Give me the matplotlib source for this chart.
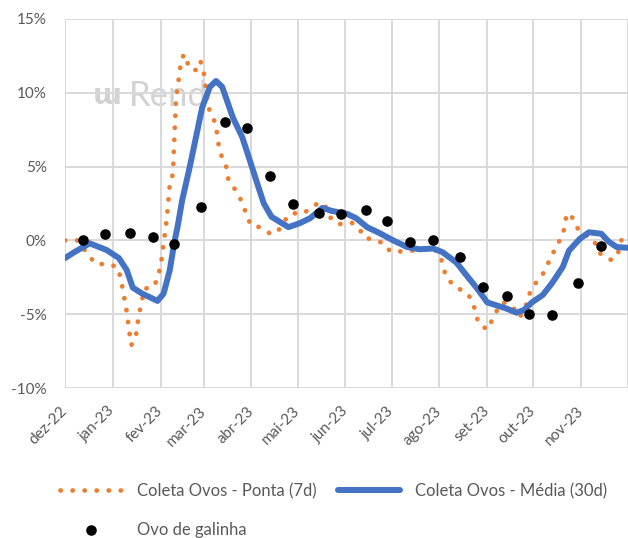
import matplotlib
matplotlib.use("Agg")
import matplotlib.pyplot as plt
import matplotlib.dates as mdates
import pandas as pd
from matplotlib.lines import Line2D

# ---------------- data ----------------
ponta_dates = ["2022-12-01", "2022-12-09", "2022-12-17", "2022-12-21", "2022-12-29",
               "2023-01-04", "2023-01-06", "2023-01-08", "2023-01-10", "2023-01-12", "2023-01-13",
               "2023-01-16", "2023-01-17", "2023-01-18", "2023-01-20", "2023-01-21", "2023-01-28",
               "2023-01-30", "2023-02-01", "2023-02-03", "2023-02-05", "2023-02-07", "2023-02-09",
               "2023-02-10", "2023-02-11", "2023-02-12", "2023-02-13", "2023-02-14", "2023-02-16",
               "2023-02-18", "2023-02-19", "2023-02-25", "2023-02-27", "2023-03-01", "2023-03-02",
               "2023-03-04", "2023-03-07", "2023-03-09", "2023-03-10", "2023-03-11", "2023-03-13",
               "2023-03-16", "2023-03-17", "2023-03-21", "2023-03-24", "2023-03-27", "2023-03-29",
               "2023-04-01", "2023-04-05", "2023-04-11", "2023-04-14", "2023-04-19", "2023-04-23",
               "2023-04-27", "2023-05-04", "2023-05-10", "2023-05-15", "2023-05-19", "2023-05-23",
               "2023-05-28", "2023-06-05", "2023-06-10", "2023-06-13", "2023-06-19", "2023-06-26",
               "2023-06-30", "2023-07-06", "2023-07-14", "2023-07-21", "2023-07-28", "2023-08-01",
               "2023-08-03", "2023-08-05", "2023-08-08", "2023-08-12", "2023-08-18", "2023-08-22",
               "2023-08-24", "2023-08-26", "2023-08-28", "2023-09-01", "2023-09-02", "2023-09-04",
               "2023-09-07", "2023-09-11", "2023-09-15", "2023-09-19", "2023-09-22", "2023-09-26",
               "2023-09-27", "2023-09-29", "2023-10-03", "2023-10-07", "2023-10-09", "2023-10-13",
               "2023-10-15", "2023-10-19", "2023-10-21", "2023-10-22", "2023-10-24", "2023-10-25",
               "2023-10-28", "2023-10-31", "2023-11-05", "2023-11-09", "2023-11-11", "2023-11-12",
               "2023-11-17", "2023-11-21", "2023-11-25", "2023-11-27", "2023-11-30"]
ponta_vals = [0.0, 0.0, -1.1, -1.6, -1.6,
              -1.8, -2.5, -3.6, -4.8, -6.4, -7.1,
              -6.5, -5.7, -5.0, -4.1, -3.3, -3.1,
              -2.5, -1.8, -0.2, 1.4, 3.8, 4.5,
              7.0, 9.5, 10.3, 11.1, 11.9, 12.6,
              12.4, 11.7, 11.5, 12.1, 11.4, 10.6,
              9.0, 8.4, 7.7, 7.0, 6.2, 5.6,
              4.9, 4.1, 3.5, 3.0, 2.3, 1.6,
              1.0, 0.95, 0.6, 0.4, 0.75, 1.4,
              1.85, 1.8, 2.2, 2.6, 2.3, 1.4,
              1.1, 1.2, 0.8, 0.2, 0.05, -0.2,
              -0.75, -0.75, -0.7, -0.55, -0.55, -0.95,
              -1.55, -2.4, -2.8, -3.2, -3.5, -4.0,
              -4.7, -5.5, -5.8, -6.0, -6.0, -5.4,
              -4.8, -4.2, -4.3, -4.7, -5.2, -4.5,
              -3.9, -3.5, -2.8, -2.3, -1.8, -1.1,
              -0.5, 0.15, 0.8, 1.5, 1.85, 1.8,
              1.15, 0.55, 0.3, 0.05, -0.45, -0.8,
              -1.15, -1.35, -0.8, 0.0, 0.35]

media_dates = ["2022-12-01", "2022-12-07", "2022-12-17", "2022-12-28", "2023-01-05", "2023-01-10",
               "2023-01-14", "2023-01-20", "2023-01-30", "2023-02-03", "2023-02-07", "2023-02-10",
               "2023-02-12", "2023-02-15", "2023-02-20", "2023-02-24", "2023-02-28", "2023-03-05",
               "2023-03-09", "2023-03-13", "2023-03-16", "2023-03-20", "2023-03-26", "2023-03-31",
               "2023-04-04", "2023-04-09", "2023-04-14", "2023-04-21", "2023-04-25", "2023-05-02",
               "2023-05-09", "2023-05-17", "2023-05-23", "2023-06-02", "2023-06-08", "2023-06-15",
               "2023-06-23", "2023-07-02", "2023-07-11", "2023-07-19", "2023-07-28", "2023-08-03",
               "2023-08-12", "2023-08-18", "2023-08-25", "2023-09-01", "2023-09-07", "2023-09-13",
               "2023-09-20", "2023-09-25", "2023-09-30", "2023-10-07", "2023-10-13", "2023-10-20",
               "2023-10-24", "2023-10-31", "2023-11-06", "2023-11-14", "2023-11-19", "2023-11-24",
               "2023-12-01"]
media_vals = [-1.2, -0.8, -0.2, -0.65, -1.2, -2.0,
              -3.2, -3.6, -4.1, -3.6, -2.0, -0.1,
              0.9, 2.7, 5.0, 7.0, 9.0, 10.4,
              10.8, 10.4, 9.5, 8.3, 7.0, 5.4,
              4.1, 2.5, 1.6, 1.15, 0.9, 1.15,
              1.5, 2.2, 2.0, 1.8, 1.5, 0.9,
              0.5, 0.0, -0.45, -0.6, -0.55, -0.8,
              -1.5, -2.3, -3.2, -4.2, -4.4, -4.6,
              -4.9, -4.7, -4.2, -3.7, -2.9, -1.8,
              -0.7, 0.1, 0.55, 0.45, -0.1, -0.45,
              -0.5]

ovo_dates = ["2022-12-13", "2022-12-27", "2023-01-12", "2023-01-27", "2023-02-10", "2023-02-27",
             "2023-03-15", "2023-03-29", "2023-04-13", "2023-04-28", "2023-05-15", "2023-05-29",
             "2023-06-14", "2023-06-28", "2023-07-13", "2023-07-28", "2023-08-14", "2023-08-29",
             "2023-09-14", "2023-09-28", "2023-10-13", "2023-10-30", "2023-11-14"]
ovo_vals = [0.05, 0.45, 0.52, 0.23, -0.23, 2.26,
            8.02, 7.64, 4.36, 2.49, 1.88, 1.81,
            2.03, 1.29, -0.11, 0.0, -1.1, -3.16,
            -3.8, -4.97, -5.08, -2.87, -0.41]

month_ticks = ["2022-12-01", "2023-01-01", "2023-02-01", "2023-03-01", "2023-04-01", "2023-05-01",
               "2023-06-01", "2023-07-01", "2023-08-01", "2023-09-01", "2023-10-01", "2023-11-01",
               "2023-12-01"]
month_labels = ["dez-22", "jan-23", "fev-23", "mar-23", "abr-23", "mai-23",
                "jun-23", "jul-23", "ago-23", "set-23", "out-23", "nov-23", ""]
y_ticks = [-10, -5, 0, 5, 10, 15]
y_labels = ["-10%", "-5%", "0%", "5%", "10%", "15%"]

series_labels = ["Coleta Ovos - Ponta (7d)", "Coleta Ovos - Média (30d)", "Ovo de galinha"]

# ---------------- style ----------------
ORANGE = "#ED7D31"
BLUE = "#4472C4"
GRID = "#D9D9D9"
TXT = "#595959"
plt.rcParams["font.family"] = ["Lato", "DejaVu Sans"]

fig = plt.figure(figsize=(6.28, 5.38), dpi=100)
ax = fig.add_axes([65 / 628, 1 - 388 / 538, (627.5 - 65) / 628, (388 - 19) / 538])

pd_ponta = pd.to_datetime(ponta_dates)
pd_media = pd.to_datetime(media_dates)
pd_ovo = pd.to_datetime(ovo_dates)

# watermark
ax.text(0.050, 0.792, "ɯ", transform=ax.transAxes, fontsize=20, fontweight="bold",
        family="DejaVu Sans", color="#D2D2D2", ha="left", va="center", zorder=0)
ax.text(0.113, 0.79, "Rend", transform=ax.transAxes, fontsize=25,
        color="#D2D2D2", ha="left", va="center", zorder=0)

l1, = ax.plot(pd_ponta, ponta_vals, color=ORANGE, lw=3.4, linestyle=(0, (0.05, 2.5)),
              dash_capstyle="round", zorder=3, label=series_labels[0])
l2, = ax.plot(pd_media, media_vals, color=BLUE, lw=4.3, solid_capstyle="round",
              solid_joinstyle="round", zorder=4, label=series_labels[1])
l3, = ax.plot(pd_ovo, ovo_vals, linestyle="none", marker="o", ms=6.6, color="black",
              zorder=5, label=series_labels[2])

ax.set_xlim(pd.Timestamp("2022-12-01"), pd.Timestamp("2023-12-01"))
ax.set_ylim(-10, 15)
ax.set_xticks(pd.to_datetime(month_ticks))
ax.set_xticklabels(month_labels)
ax.set_yticks(y_ticks)
ax.set_yticklabels(y_labels)

ax.grid(True, color=GRID, lw=1.4, zorder=1)
ax.set_axisbelow(True)
for s in ax.spines.values():
    s.set_visible(False)
ax.tick_params(axis="both", length=0, labelsize=11, labelcolor=TXT)
ax.tick_params(axis="y", pad=13)
ax.tick_params(axis="x", pad=15)
for lab in ax.get_xticklabels():
    lab.set_rotation(45)
    lab.set_ha("right")
    lab.set_va("center")
    lab.set_rotation_mode("anchor")

leg = fig.legend([l1, l3, l2], [series_labels[0], series_labels[2], series_labels[1]],
                 ncol=2, loc="upper left", bbox_to_anchor=(60 / 628, 1 - 483 / 538),
                 frameon=False, fontsize=12, handlelength=3.7, handletextpad=0.9,
                 columnspacing=1.3, labelspacing=1.4, borderpad=0, borderaxespad=0)
for t in leg.get_texts():
    t.set_color(TXT)

fig.savefig("out.png", dpi=100)
